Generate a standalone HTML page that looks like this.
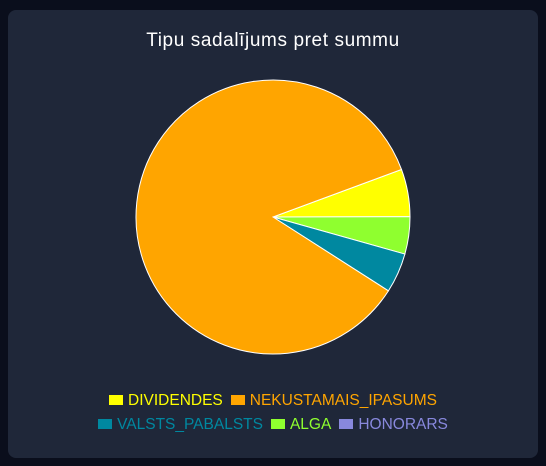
<!DOCTYPE html>
<html><head><meta charset="utf-8">
<style>
html,body{margin:0;padding:0;background:#0a0e1c;width:546px;height:466px;overflow:hidden;font-family:"Liberation Sans",sans-serif;}
.card{position:absolute;left:8px;top:10px;width:530px;height:448px;background:#1f2739;border-radius:8px;}
.title{position:absolute;left:0;top:30px;width:546px;text-align:center;color:#fff;font-size:19px;letter-spacing:0.6px;}
.legend{position:absolute;left:0;width:546px;text-align:center;font-size:15.5px;}
.item{display:inline-block;margin:0 4px;}
.box{display:inline-block;width:14px;height:10px;margin-right:5px;vertical-align:0px;}
</style></head><body>
<div class="card"></div>
<div class="title">Tipu sadalījums pret summu</div>
<svg id="pie" width="546" height="466" style="position:absolute;left:0;top:0"></svg>
<div class="legend" style="top:392px" id="leg1"></div>
<div class="legend" style="top:416px" id="leg2"></div>
<script>
const categories=["DIVIDENDES","ALGA","VALSTS_PABALSTS","NEKUSTAMAIS_IPASUMS","HONORARS"];
const values=[5.6,4.4,4.7,85.3,0];
const colors=["#ffff00","#8fff2f","#0088a0","#ffa500","#8888dd"];
const legendOrder1=["DIVIDENDES","NEKUSTAMAIS_IPASUMS"];
const legendOrder2=["VALSTS_PABALSTS","ALGA","HONORARS"];
const cx=273,cy=217,r=137,start=-20.3*Math.PI/180;
const svg=document.getElementById('pie');
const total=values.reduce((a,b)=>a+b,0);
let a=start;
values.forEach((v,i)=>{
  if(v<=0)return;
  const a2=a+v/total*2*Math.PI;
  const large=(a2-a)>Math.PI?1:0;
  const p=document.createElementNS('http://www.w3.org/2000/svg','path');
  p.setAttribute('d',`M${cx},${cy}L${cx+r*Math.cos(a)},${cy+r*Math.sin(a)}A${r},${r} 0 ${large} 1 ${cx+r*Math.cos(a2)},${cy+r*Math.sin(a2)}Z`);
  p.setAttribute('fill',colors[i]);p.setAttribute('stroke','#fff');p.setAttribute('stroke-width','1');
  
  
  svg.appendChild(p);a=a2;
});
function leg(id,list){
  const el=document.getElementById(id);
  list.forEach(n=>{
    const i=categories.indexOf(n);
    const s=document.createElement('span');s.className='item';s.style.color=colors[i];
    
    
    s.innerHTML=`<span class="box" style="background:${colors[i]}"></span>${n}`;
    el.appendChild(s);
  });
}
leg('leg1',legendOrder1);leg('leg2',legendOrder2);
</script>
</body></html>
